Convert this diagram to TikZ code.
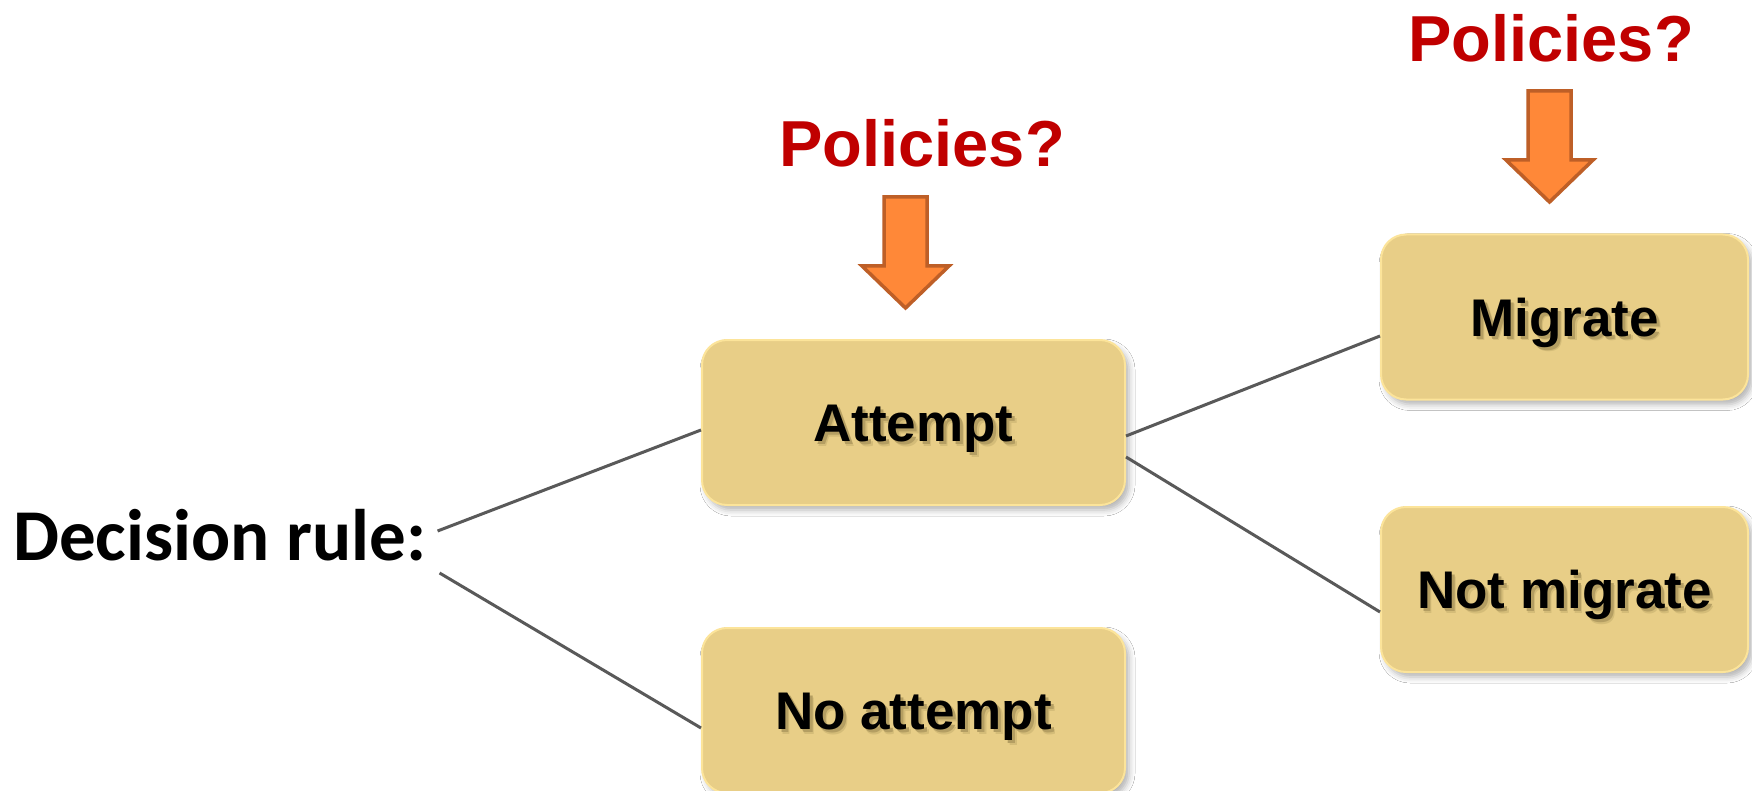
\documentclass[tikz,border=0pt]{standalone}
\usepackage{fontspec}
\setmainfont{Liberation Sans}
\newfontfamily\calfont{Carlito}
\usetikzlibrary{shadows.blur}
\definecolor{boxfill}{RGB}{232,206,135}
\definecolor{boxedge}{RGB}{252,228,154}
\definecolor{polred}{RGB}{192,0,0}
\definecolor{arrfill}{RGB}{255,136,56}
\definecolor{arredge}{RGB}{190,95,39}
\definecolor{linegray}{RGB}{89,89,89}
\definecolor{txtshadowA}{RGB}{212,188,120}
\definecolor{txtshadowB}{RGB}{180,158,98}
\newcommand\shtext[1]{\rlap{\hspace{4.5pt}\raisebox{-4.5pt}{\textcolor{txtshadowA}{#1}}}\rlap{\hspace{3pt}\raisebox{-3pt}{\textcolor{txtshadowB}{#1}}}#1}
\begin{document}
\begin{tikzpicture}[x=1pt,y=-1pt,
  choice/.style={draw=boxedge, line width=2pt, fill=boxfill, rounded corners=25pt,
    minimum height=165pt, inner sep=0pt, text height=38pt, text depth=0pt,
    font=\fontsize{53}{60}\selectfont\bfseries,
    blur shadow={shadow xshift=4pt, shadow yshift=-5pt, shadow blur radius=6pt, shadow opacity=30}},
  leftbox/.style={choice, minimum width=423pt},
  rightbox/.style={choice, minimum width=367pt},
  policy/.style={inner sep=0pt, text=polred, font=\fontsize{65}{70}\selectfont\bfseries},
  bigarrow/.style={fill=arrfill, draw=arredge, line width=3.5pt, line join=miter},
  conn/.style={draw=linegray, line width=3pt}]
\useasboundingbox (0,0) rectangle (1752,791);
\fill[white] (0,0) rectangle (1752,791);

\node[anchor=base west, inner sep=0pt, font=\calfont\fontsize{73}{80}\selectfont\bfseries] (dec) at (13,560) {Decision rule:};

\node[leftbox] (att) at (913.5,422.5) {\shtext{Attempt}};
\node[leftbox] (noatt) at (913.5,710.5) {\shtext{No attempt}};
\node[rightbox] (mig) at (1564.5,317) {\shtext{Migrate}};
\node[rightbox] (notmig) at (1564.5,589.5) {\shtext{Not migrate}};

\node[policy] (pol1) at (922,143.5) {Policies?};
\node[policy] (pol2) at (1551,38) {Policies?};

\draw[bigarrow, shift={(905.5,197)}] (-21.5,0) -- (21.5,0) -- (21.5,69) -- (43.5,69) -- (0,111) -- (-43.5,69) -- (-21.5,69) -- cycle;
\draw[bigarrow, shift={(1549.5,91)}] (-21.5,0) -- (21.5,0) -- (21.5,69) -- (43.5,69) -- (0,111) -- (-43.5,69) -- (-21.5,69) -- cycle;

\draw[conn] ([xshift=11pt,yshift=29pt]dec.base east) -- ([yshift=-7.5pt]att.west);
\draw[conn] ([xshift=13pt,yshift=-13pt]dec.base east) -- ([yshift=-17.5pt]noatt.west);
\draw[conn] ([yshift=-13.5pt]att.east) -- ([yshift=-19pt]mig.west);
\draw[conn] ([yshift=-34.5pt]att.east) -- ([yshift=-22.5pt]notmig.west);
\end{tikzpicture}
\end{document}
